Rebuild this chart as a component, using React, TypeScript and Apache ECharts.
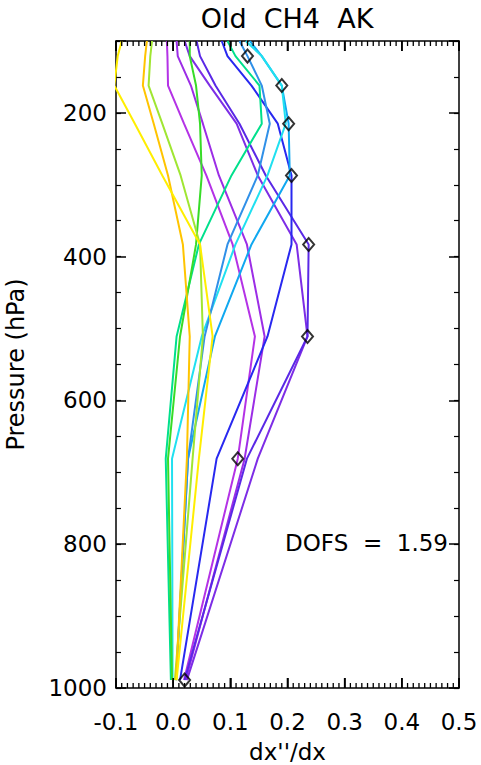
import React, { useEffect, useRef } from 'react';
import * as echarts from 'echarts';

// Pressure levels (hPa) at which each averaging-kernel row is sampled
const pressureLevels = [100, 121, 162, 215, 287, 383, 511, 681, 989];

// Averaging kernel rows (dx''/dx) at the levels above
const akMagenta = [-0.011, -0.010, -0.009, 0.019, 0.058, 0.104, 0.143, 0.113, 0.019];
const akPurple = [0.006, 0.008, 0.031, 0.052, 0.080, 0.129, 0.160, 0.125, 0.022];
const akViolet = [0.020, 0.029, 0.064, 0.111, 0.148, 0.216, 0.235, 0.148, 0.024];
const akIndigo = [0.041, 0.047, 0.074, 0.116, 0.162, 0.237, 0.235, 0.129, 0.020];
const akBlue = [0.085, 0.095, 0.137, 0.183, 0.207, 0.207, 0.165, 0.076, 0.012];
const akAzure = [0.134, 0.155, 0.190, 0.202, 0.204, 0.137, 0.073, 0.026, 0.005];
const akCyan = [0.127, 0.155, 0.190, 0.197, 0.165, 0.109, 0.050, -0.002, -0.001];
const akTeal = [0.116, 0.130, 0.155, 0.169, 0.148, 0.095, 0.055, 0.026, 0.005];
const akSpring = [0.095, 0.109, 0.151, 0.155, 0.102, 0.045, 0.006, -0.013, -0.004];
const akGreen = [0.029, 0.029, 0.040, 0.047, 0.050, 0.040, 0.012, -0.009, -0.002];
const akLime = [-0.037, -0.040, -0.043, -0.019, 0.013, 0.047, 0.052, 0.034, 0.003];
const akOrange = [-0.046, -0.049, -0.053, -0.034, -0.009, 0.017, 0.029, 0.024, 0.005];
const akYellow = [-0.090, -0.097, -0.103, -0.067, -0.019, 0.047, 0.069, 0.045, 0.006];

const curveRows = [akMagenta, akPurple, akViolet, akIndigo, akBlue, akAzure, akCyan, akTeal, akSpring, akGreen, akLime, akOrange, akYellow];
const curveColors = ['#B432E6', '#9C2DE6', '#7D2DE6', '#5A28E6', '#2828F0', '#10A8F0', '#20E0F0', '#3090E8', '#00E08C', '#38DC28', '#A0E632', '#FFC400', '#FFEE00'];

// Diagonal elements (diamonds)
const diagPressure = [121, 162, 215, 287, 383, 511, 681, 989];
const diagValue = [0.130, 0.190, 0.202, 0.207, 0.237, 0.235, 0.113, 0.020];

const xMin = -0.1;
const xMax = 0.5;
const xStep = 0.1;
const xMinorPerMajor = 10;
const pTop = 100;
const pBottom = 1000;
const pMinorStep = 50;

const titleText = 'Old  CH4  AK';
const dofsText = 'DOFS  =  1.59';
const xName = "dx''/dx";
const yName = 'Pressure (hPa)';

const FONT = 'DejaVu Sans';

export default function App() {
  const ref = useRef<HTMLDivElement>(null);

  useEffect(() => {
    if (!ref.current) return;
    const chart = echarts.init(ref.current, null, { renderer: 'svg' });

    const black = '#000';
    const axisLine = { show: true, onZero: false, lineStyle: { color: black, width: 1.5 } };
    const noLine = { show: false, onZero: false };

    const majorY = (position: string, labels: boolean) => ({
      type: 'value',
      position,
      inverse: true,
      min: pTop,
      max: pBottom,
      splitNumber: 5,
      axisLine,
      axisTick: { show: true, inside: true, length: 10, lineStyle: { color: black, width: 1.5 } },
      axisLabel: labels
        ? {
            show: true,
            margin: 9,
            color: black,
            fontSize: 23,
            fontFamily: FONT,
            formatter: (v: number) => (v === pTop ? '' : String(v)),
          }
        : { show: false },
      splitLine: { show: false },
      ...(labels
        ? {
            name: yName,
            nameLocation: 'middle',
            nameGap: 88,
            nameTextStyle: { color: black, fontSize: 24, fontFamily: FONT },
          }
        : {}),
    });

    const minorY = (position: string) => ({
      type: 'value',
      position,
      inverse: true,
      min: pTop,
      max: pBottom,
      interval: pMinorStep,
      axisLine: noLine,
      axisTick: { show: true, inside: true, length: 5, lineStyle: { color: black, width: 1.2 } },
      axisLabel: { show: false },
      splitLine: { show: false },
    });

    const frameX = (position: string, labels: boolean) => ({
      type: 'value',
      position,
      min: xMin,
      max: xMax,
      interval: xStep,
      axisLine,
      axisTick: { show: true, inside: true, length: 10, lineStyle: { color: black, width: 1.5 } },
      axisLabel: labels
        ? {
            show: true,
            margin: 22,
            color: black,
            fontSize: 23,
            fontFamily: FONT,
            formatter: (v: number) => v.toFixed(1),
          }
        : { show: false },
      splitLine: { show: false },
      ...(labels
        ? {
            name: xName,
            nameLocation: 'middle',
            nameGap: 52,
            nameTextStyle: { color: black, fontSize: 23, fontFamily: FONT },
          }
        : {}),
    });

    // x tick positions along the frame
    const nMajor = Math.round((xMax - xMin) / xStep);
    const xTickValues: number[] = [];
    const xTickMajor: boolean[] = [];
    for (let i = 0; i <= nMajor * xMinorPerMajor; i++) {
      xTickValues.push(Number((xMin + (i * xStep) / xMinorPerMajor).toFixed(4)));
      xTickMajor.push(i % xMinorPerMajor === 0);
    }

    const xTickSeries = {
      type: 'custom',
      coordinateSystem: 'cartesian2d',
      xAxisIndex: 0,
      yAxisIndex: 0,
      silent: true,
      clip: false,
      z: 10,
      encode: { x: 0, y: 1 },
      data: xTickValues.map((v) => [v, pBottom]),
      renderItem: (params: any, api: any) => {
        const v = api.value(0);
        const major = xTickMajor[params.dataIndex];
        const len = major ? 10 : 5;
        const w = major ? 1.6 : 1.3;
        const b = api.coord([v, pBottom]);
        const t = api.coord([v, pTop]);
        return {
          type: 'group',
          children: [
            { type: 'line', shape: { x1: b[0], y1: b[1], x2: b[0], y2: b[1] - len }, style: { stroke: black, lineWidth: w } },
            { type: 'line', shape: { x1: t[0], y1: t[1], x2: t[0], y2: t[1] + len }, style: { stroke: black, lineWidth: w } },
          ],
        };
      },
    };

    const lineSeries = curveRows.map((row, i) => ({
      type: 'line',
      xAxisIndex: 0,
      yAxisIndex: 0,
      data: row.map((v, j) => [v, pressureLevels[j]]),
      showSymbol: false,
      symbol: 'none',
      lineStyle: { color: curveColors[i], width: 2 },
      itemStyle: { color: curveColors[i] },
      clip: true,
      z: 2,
    }));

    const diamondSeries = {
      type: 'scatter',
      xAxisIndex: 0,
      yAxisIndex: 0,
      data: diagValue.map((v, i) => [v, diagPressure[i]]),
      symbol: 'diamond',
      symbolSize: [11, 13],
      itemStyle: { color: 'rgba(0,0,0,0)', borderColor: black, borderWidth: 2 },
      z: 5,
    };

    chart.setOption({
      animation: false,
      backgroundColor: '#fff',
      textStyle: { fontFamily: FONT },
      grid: { left: 116, right: 22, top: 41, bottom: 77, containLabel: false, outerBoundsMode: 'none' },
      xAxis: [frameX('bottom', true), frameX('top', false)],
      yAxis: [majorY('left', true), minorY('left'), majorY('right', false), minorY('right')],
      series: [...lineSeries, diamondSeries, xTickSeries],
      graphic: [
        {
          type: 'text',
          x: 287,
          y: 18,
          style: {
            text: titleText,
            fill: black,
            font: `27px "${FONT}"`,
            align: 'center',
            verticalAlign: 'middle',
            textAlign: 'center',
            textVerticalAlign: 'middle',
          },
        },
        {
          type: 'text',
          x: 448,
          y: 543,
          style: {
            text: dofsText,
            fill: black,
            font: `23px "${FONT}"`,
            align: 'right',
            verticalAlign: 'middle',
            textAlign: 'right',
            textVerticalAlign: 'middle',
          },
        },
      ],
    });

    return () => chart.dispose();
  }, []);

  return (
    <div
      ref={ref}
      style={{ position: 'absolute', left: 0, top: 0, width: 481, height: 765, background: '#fff' }}
    />
  );
}
